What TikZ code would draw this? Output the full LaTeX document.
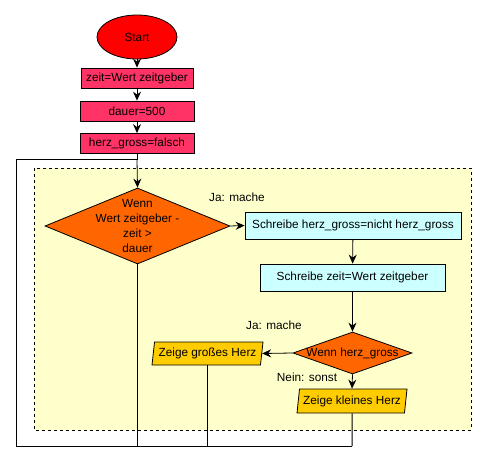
\documentclass[tikz,border=0pt]{standalone}
\usepackage{fontspec}
\setmainfont{Liberation Sans}
\usetikzlibrary{shapes.geometric,arrows.meta}
\definecolor{startrot}{HTML}{FF0000}
\definecolor{setzrot}{HTML}{FF3366}
\definecolor{frageorange}{HTML}{FF6600}
\definecolor{schreibcyan}{HTML}{CCFFFF}
\definecolor{zeiggelb}{HTML}{FFCC00}
\definecolor{schleifgelb}{HTML}{FFFFCC}
\begin{document}
\begin{tikzpicture}[x=1pt, y=-1pt, font=\fontsize{11.8}{14.7}\selectfont,
    anfang/.style={ellipse, draw, line width=0.8pt, fill=startrot, minimum width=80pt, minimum height=44pt},
    setzen/.style={draw, line width=0.8pt, fill=setzrot, minimum width=114pt, minimum height=20pt, inner sep=1pt},
    schreiben/.style={draw, line width=0.8pt, fill=schreibcyan, minimum height=27pt, inner sep=1pt},
    frage/.style={diamond, draw, line width=0.8pt, fill=frageorange, inner sep=0pt},
    zeigen/.style={trapezium, trapezium left angle=78, trapezium right angle=102, trapezium stretches=true,
        draw, line width=0.8pt, fill=zeiggelb, minimum height=23pt, inner sep=0pt},
    pfeil/.style={-{Stealth[length=9pt, width=8pt, inset=3pt]}, line width=0.8pt},
    linie/.style={line width=1pt}]
    \useasboundingbox (0,0) rectangle (486,462);
    % schleife
    \draw[dashed, line width=0.6pt, fill=schleifgelb] (34,168) rectangle (471,430);

    \node[anfang] (start) at (137,37) {Start};
    \node[setzen, minimum width=112pt] (zeit) at (137,78) {zeit=Wert zeitgeber};
    \node[setzen] (dauer) at (137,111) {dauer=500};
    \node[setzen] (herz) at (137,143.5) {herz\_gross=falsch};

    \node[frage, minimum width=185pt, minimum height=76pt,
        label={[align=center]center:Wenn\\Wert zeitgeber -\\zeit >\\dauer}] (wenn) at (137.5,226) {};
    \node[schreiben, minimum width=216pt] (schreibherz) at (353,225.5) {Schreibe herz\_gross=nicht herz\_gross};
    \node[schreiben, minimum width=185pt] (schreibzeit) at (352.5,277.5) {Schreibe zeit=Wert zeitgeber};
    \node[frage, minimum width=119pt, minimum height=42pt,
        label={center:Wenn herz\_gross}] (wennherz) at (352.5,353) {};
    \node[zeigen, minimum width=111pt] (gross) at (207.5,353.5) {Zeige großes Herz};
    \node[zeigen, minimum width=110pt, minimum height=24pt] (klein) at (352,401) {Zeige kleines Herz};

    \node (ja1) at (237,197) {Ja: mache};
    \node (ja2) at (274,325) {Ja: mache};
    \node (nein) at (307,377) {Nein: sonst};

    \coordinate (oben) at (137,160);
    \coordinate (obenlinks) at (16,160);
    \coordinate (untenlinks) at (16,446);
    \coordinate (unten) at (352,446);

    \draw[pfeil] (start) -- (zeit);
    \draw[pfeil] (zeit) -- (dauer);
    \draw[pfeil] (dauer) -- (herz);
    \draw[linie] (herz) -- (oben) -- (obenlinks) -- (untenlinks) -- (unten);
    \draw[pfeil] (oben) -- (wenn.north);
    \draw[pfeil] (wenn.east) -- (schreibherz.west);
    \draw[pfeil] (schreibherz) -- (schreibzeit);
    \draw[pfeil] (schreibzeit) -- (wennherz.north);
    \draw[pfeil] (wennherz.west) -- (gross.east);
    \draw[pfeil] (wennherz.south) -- (klein.north);
    \draw[linie] (wenn.south) -- (wenn.south |- unten);
    \draw[linie] (gross.south) -- (gross.south |- unten);
    \draw[linie] (klein.south) -- (unten);
\end{tikzpicture}
\end{document}
